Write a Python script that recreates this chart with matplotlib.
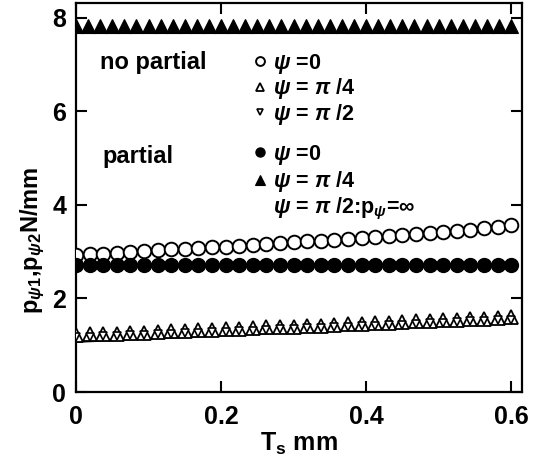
import numpy as np
import matplotlib
matplotlib.use("Agg")
import matplotlib.pyplot as plt
from matplotlib.lines import Line2D

plt.rcParams['font.family'] = ['Liberation Sans', 'DejaVu Sans']
plt.rcParams['font.weight'] = 'bold'
plt.rcParams['axes.labelweight'] = 'bold'
plt.rcParams['mathtext.fontset'] = 'custom'
plt.rcParams['mathtext.rm'] = 'Liberation Sans:bold'
plt.rcParams['mathtext.it'] = 'Liberation Sans:italic:bold'
plt.rcParams['mathtext.bf'] = 'Liberation Sans:bold'

# ---- data ----
ts_dense = np.linspace(0, 0.6, 37)   # T_s positions for partial psi=pi/4
ts = np.linspace(0, 0.6, 33)         # T_s positions for the other series

nopart_psi0 = [2.93, 2.95, 2.96, 2.98, 3.00, 3.01, 3.03, 3.05, 3.06, 3.08, 3.10,
               3.11, 3.13, 3.15, 3.17, 3.19, 3.21, 3.22, 3.24, 3.26, 3.28, 3.30,
               3.32, 3.34, 3.36, 3.38, 3.40, 3.43, 3.45, 3.47, 3.50, 3.53, 3.57]
nopart_psi45 = [1.22, 1.23, 1.24, 1.25, 1.26, 1.27, 1.28, 1.30, 1.31, 1.32, 1.33,
                1.34, 1.35, 1.36, 1.38, 1.39, 1.40, 1.41, 1.42, 1.43, 1.45, 1.46,
                1.47, 1.48, 1.49, 1.51, 1.52, 1.53, 1.54, 1.56, 1.57, 1.58, 1.60]
nopart_psi90 = [1.17, 1.18, 1.19, 1.20, 1.21, 1.22, 1.23, 1.25, 1.26, 1.27, 1.28,
                1.29, 1.30, 1.31, 1.33, 1.34, 1.35, 1.36, 1.37, 1.38, 1.40, 1.41,
                1.42, 1.43, 1.44, 1.46, 1.47, 1.48, 1.49, 1.51, 1.52, 1.53, 1.55]
part_psi0 = [2.72] * 33
part_psi45 = [7.83] * 37
fit_ts = [0.0, 0.6]
fit_vals = [1.07, 1.48]

x_ticks = [0, 0.2, 0.4, 0.6]
x_ticklabels = ['0', '0.2', '0.4', '0.6']
y_ticks = [0, 2, 4, 6, 8]
y_ticklabels = ['0', '2', '4', '6', '8']

# ---- figure ----
fig = plt.figure(figsize=(5.36, 4.59), dpi=100)
ax = fig.add_axes([76 / 536, 1 - 392 / 459, (522 - 76) / 536, (392 - 3) / 459])

ax.plot(fit_ts, fit_vals, color='black', lw=1.3, zorder=2)
l_open_c, = ax.plot(ts, nopart_psi0, ls='none', marker='o', ms=9.8, mfc='white',
                    mec='black', mew=1.4, zorder=3)
l_fill_c, = ax.plot(ts, part_psi0, ls='none', marker='o', ms=10, mfc='black',
                    mec='black', mew=1.0, zorder=3)
l_open_up, = ax.plot(ts, nopart_psi45, ls='none', marker='^', ms=9.8, mfc='white',
                     mec='black', mew=1.3, zorder=3)
l_open_dn, = ax.plot(ts, nopart_psi90, ls='none', marker='v', ms=6, mfc='white',
                     mec='black', mew=1.2, zorder=4)
l_fill_up, = ax.plot(ts_dense, part_psi45, ls='none', marker='^', ms=10,
                     mfc='black', mec='black', mew=0.8, zorder=3)

ax.set_xlim(0, 0.615)
ax.set_ylim(0, 8.32)
ax.set_xticks(x_ticks)
ax.set_xticklabels(x_ticklabels)
ax.set_yticks(y_ticks)
ax.set_yticklabels(y_ticklabels)
ax.tick_params(direction='in', length=8, width=1.5, labelsize=18, pad=7,
               top=True, right=True)
ax.tick_params(axis='x', pad=9)
for s in ax.spines.values():
    s.set_linewidth(1.6)

ax.set_xlabel(r'T$_\mathrm{s}$ mm', fontsize=18, labelpad=2)
ax.set_ylabel(r'p$_{\psi 1}$,p$_{\psi 2}$N/mm', fontsize=17)
ax.yaxis.set_label_coords(-0.065, 0.39)

# legend group titles
txt_kw = dict(fontsize=17, va='center', ha='left')
fig.text(100 / 536, 1 - 62 / 459, 'no partial', **txt_kw)
fig.text(102 / 536, 1 - 156 / 459, 'partial', **txt_kw)

blank = Line2D([], [], ls='none', marker=None)
leg_kw = dict(loc='upper left', bbox_transform=fig.transFigure, frameon=False,
              fontsize=15.5, markerscale=0.65, handlelength=0.8,
              handletextpad=0.2, borderpad=0, borderaxespad=0)
leg1 = ax.legend([l_open_c, l_open_up, l_open_dn],
                 [r'$\psi$ =0', r'$\psi$ = $\pi$ /4', r'$\psi$ = $\pi$ /2'],
                 bbox_to_anchor=(251 / 536, 1 - 52 / 459), labelspacing=0.02,
                 **leg_kw)
ax.add_artist(leg1)
leg2 = ax.legend([l_fill_c, l_fill_up, blank],
                 [r'$\psi$ =0', r'$\psi$ = $\pi$ /4',
                  r'$\psi$ = $\pi$ /2:p$_\psi$=$\infty$'],
                 bbox_to_anchor=(251 / 536, 1 - 143 / 459), labelspacing=0.1,
                 **leg_kw)

fig.savefig('out.png', dpi=100)
